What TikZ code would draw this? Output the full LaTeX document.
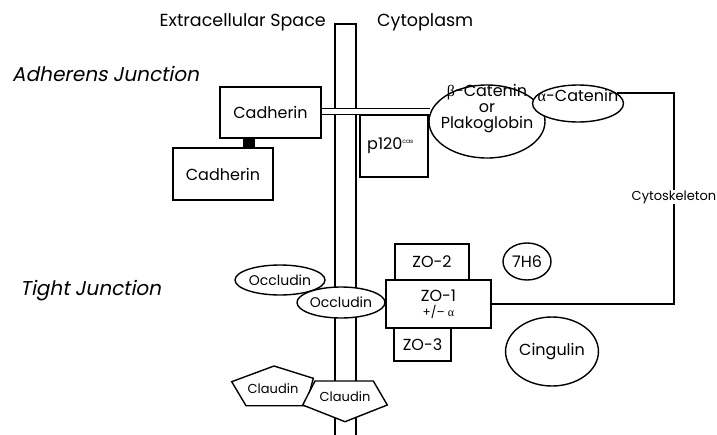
\documentclass[tikz,border=0pt]{standalone}
\usepackage{fontspec}
\setmainfont{Poppins}
\newfontfamily\slfont[FakeSlant=0.2]{Poppins}
\newfontfamily\grkfont{Liberation Serif}
\usetikzlibrary{shapes.geometric}

\begin{document}
\begin{tikzpicture}[x=1pt, y=-1pt,
    box/.style={draw, fill=white, line width=1.4pt, inner sep=0pt},
    ell/.style={draw, fill=white, ellipse, line width=1.4pt, inner sep=0pt},
    lbl/.style={font=\fontsize{16}{16}\selectfont, inner sep=0pt},
    ttl/.style={font=\slfont\fontsize{20}{20}\selectfont, inner sep=0pt, anchor=west}]

    \useasboundingbox (0,0) rectangle (717,434);

    % Titoli
    \node[ttl] (adh) at (12,74) {Adherens Junction};
    \node[ttl] (tight) at (20,291) {Tight Junction};
    \node[lbl, font=\fontsize{17.5}{18}\selectfont, anchor=east] (extra) at (326,22) {Extracellular Space};
    \node[lbl, font=\fontsize{17.5}{18}\selectfont, anchor=west] (cytopl) at (377,22) {Cytoplasm};

    % Membrana
    \draw[line width=1.4pt, fill=white] (335,24) rectangle (356,440);

    % Giunzione aderente
    \node[box, lbl, minimum width=101pt, minimum height=51pt] (cad1) at (270.5,112.5) {Cadherin};
    \node[box, lbl, minimum width=100pt, minimum height=52pt] (cad2) at (223,174) {Cadherin};
    \draw[line width=12pt] ([xshift=-21.5pt]cad1.south) -- ([xshift=-21.5pt]cad1.south |- cad2.north);
    \node[box, minimum width=68pt, minimum height=62pt] (p120) at (394,146) {};
    \node[lbl, anchor=west] (p120lbl) at (367,146) {p120\textsuperscript{\fontsize{6}{6}\selectfont cas}};
    \node[ell, minimum width=116pt, minimum height=73pt] (bcat) at (487,121.5) {};
    \node[lbl, align=center] (bcatlbl) at (487,109) {{\grkfont β}-Catenin\\or\\Plakoglobin};
    \node[ell, minimum width=91pt, minimum height=37pt] (acat) at (578,103.5) {};
    \node[lbl] (acatlbl) at (578,95) {{\grkfont α}-Catenin};
    \draw[line width=1.2pt, double, double distance=5pt] (cad1.east |- bcat.170) -- (bcat.170);

    % Citoscheletro
    \node[lbl, fill=white, font=\fontsize{13}{13}\selectfont] (cytosk) at (674,197) {Cytoskeleton};
    \draw[line width=1.4pt] (acat.15) -| (cytosk.north);

    % Giunzione stretta
    \node[box, lbl, minimum width=74pt, minimum height=36pt] (zo2) at (432,262) {ZO-2};
    \node[box, lbl, minimum width=57pt, minimum height=33pt] (zo3) at (422.5,344.5) {ZO-3};
    \node[box, lbl, align=center, minimum width=105pt, minimum height=48pt] (zo1) at (438.5,304)
        {ZO-1\\[-1pt]{\fontsize{12}{12}\selectfont +/-- {\grkfont α}}};
    \draw[line width=1.4pt] (cytosk.south) |- (zo1.east);
    \node[ell, lbl, font=\fontsize{14}{14}\selectfont, minimum width=90pt, minimum height=30pt] (occl1) at (280,280) {\makebox[0pt]{Occludin}};
    \node[ell, lbl, font=\fontsize{14}{14}\selectfont, minimum width=88pt, minimum height=31pt] (occl2) at (341,302.5) {\makebox[0pt]{Occludin}};
    \node[ell, lbl, minimum width=48pt, minimum height=37pt] (h76) at (527,261.5) {7H6};
    \node[ell, lbl, minimum width=92pt, minimum height=69pt] (cing) at (552,351.5) {Cingulin};

    % Claudine
    \draw[line width=1.4pt, fill=white] (231.7,381.7) -- (274,366) -- (313.3,378.3) -- (306,405.7) -- (246,405.7) -- cycle;
    \node[lbl, font=\fontsize{13}{13}\selectfont] (cld1) at (273,389) {Claudin};
    \draw[line width=1.4pt, fill=white] (315,381) -- (373.3,381) -- (387.3,405) -- (345,421.7) -- (302.7,405) -- cycle;
    \node[lbl, font=\fontsize{13}{13}\selectfont] (cld2) at (345,397) {Claudin};

\end{tikzpicture}
\end{document}
